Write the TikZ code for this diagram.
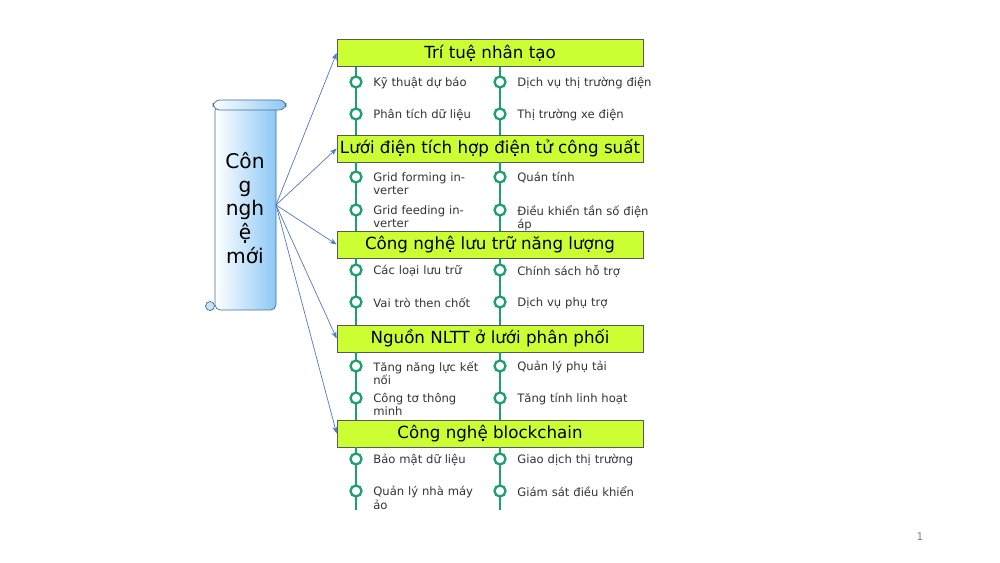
\documentclass[tikz,border=0pt]{standalone}
\usepackage{fontspec}
\setmainfont{DejaVu Sans}
\usetikzlibrary{arrows.meta}
\definecolor{hdr}{RGB}{204,255,51}
\definecolor{ln}{RGB}{30,160,110}
\definecolor{arr}{RGB}{80,120,200}
\definecolor{scr}{RGB}{140,200,245}
\definecolor{scrd}{RGB}{70,110,150}
\tikzset{
 hbox/.style={draw=gray!70!black,fill=hdr,minimum width=306*0.02cm,minimum height=27*0.02cm,inner sep=0pt,font=\fontsize{9.5}{11}\selectfont},
 ring/.style={draw=ln,line width=1.3pt,fill=white,circle,minimum size=11*0.02cm,inner sep=0pt},
 item/.style={anchor=north west,font=\fontsize{6.6}{7.6}\selectfont,text width=112*0.02cm,inner sep=0pt,align=left,text=black!80},
 con/.style={arr,-{Stealth[length=4pt,width=3pt]},line width=0.4pt},
 vl/.style={draw=ln,line width=1.3pt}
}
\begin{document}
\begin{tikzpicture}[x=0.02cm,y=-0.02cm]
\useasboundingbox (0,0) rectangle (1000,563);
% scroll
\shade[left color=white,right color=scr,draw=scrd,rounded corners=3pt] (215,105) rectangle (276,310);
\shade[left color=white,right color=scr,draw=scrd,rounded corners=4pt] (213,100) rectangle (286,110);
\draw[scrd,fill=scr!50] (210,306) circle (4.5);
\node[align=center,font=\fontsize{11.5}{13.5}\selectfont] (src) at (245,208) {Côn\\g\\ngh\\ệ\\mới};
\coordinate (o) at (276,205);
% headers
\foreach \n/\y/\t in {h1/53/Trí tuệ nhân tạo,h2/148.5/Lưới điện tích hợp điện tử công suất,h3/244.5/Công nghệ lưu trữ năng lượng,h4/338.5/Nguồn NLTT ở lưới phân phối,h5/433.5/Công nghệ blockchain}
  {\node[hbox] (\n) at (490,\y) {\t};}
\foreach \n in {h1,h2,h3,h4,h5} {\draw[con] (o) -- (\n.west);}
% vertical lines
\foreach \a/\b in {h1/h2,h2/h3,h3/h4,h4/h5} {
  \draw[vl] (\a.south -| 356,0) -- (\b.north -| 356,0);
  \draw[vl] (\a.south -| 500,0) -- (\b.north -| 500,0);}
\coordinate (e1) at (356,510); \coordinate (e2) at (500,510);
\draw[vl] (h5.south -| 356,0) -- (e1);
\draw[vl] (h5.south -| 500,0) -- (e2);
% items
\foreach \ya/\yb/\ta/\tb/\tc/\td [count=\i] in {
 82/114/Kỹ thuật dự báo/Phân tích dữ liệu/Dịch vụ thị trường điện/Thị trường xe điện,
 177/210/Grid forming inverter/Grid feeding inverter/Quán tính/Điều khiển tần số điện áp,
 270/302/Các loại lưu trữ/Vai trò then chốt/Chính sách hỗ trợ/Dịch vụ phụ trợ,
 366/398/Tăng năng lực kết nối/Công tơ thông minh/Quản lý phụ tải/Tăng tính linh hoạt,
 459/491/Bảo mật dữ liệu/Quản lý nhà máy ảo/Giao dịch thị trường/Giám sát điều khiển}{
 \node[ring] (a\i) at (356,\ya) {}; \node[ring] (b\i) at (356,\yb) {};
 \node[ring] (c\i) at (500,\ya) {}; \node[ring] (d\i) at (500,\yb) {};
 \node[item] (ta\i) at (373,\ya-5) {\ta};
 \node[item] (tb\i) at (373,\yb-5) {\tb};
 \node[item,text width=135*0.02cm] (tc\i) at (517,\ya-5) {\tc};
 \node[item,text width=135*0.02cm] (td\i) at (517,\yb-5) {\td};
}
\node[font=\fontsize{6}{7}\selectfont,text=gray] (pg) at (920,537) {1};
\end{tikzpicture}
\end{document}
